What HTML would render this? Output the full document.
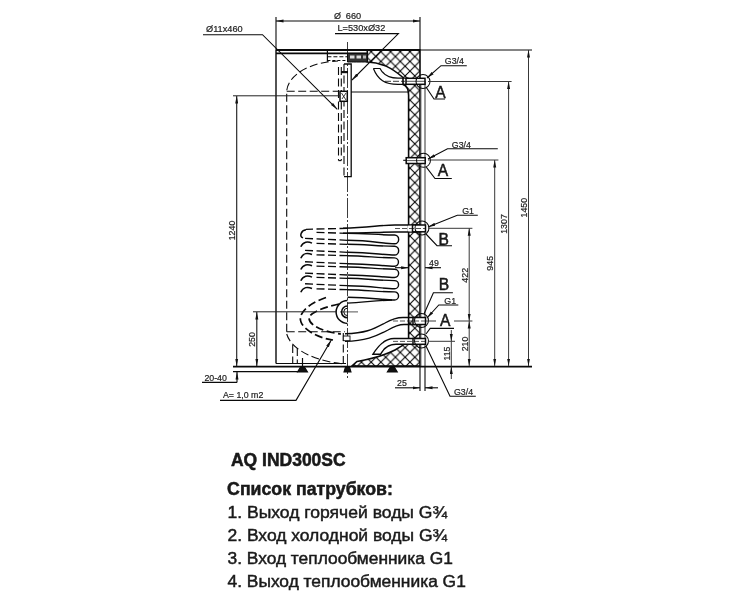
<!DOCTYPE html>
<html><head><meta charset="utf-8">
<style>
html,body{margin:0;padding:0;background:#fff;width:734px;height:600px;overflow:hidden}
svg{display:block;will-change:transform}
text{font-family:"Liberation Sans",sans-serif;fill:#1a1a1a}
</style></head><body>
<svg width="734" height="600" viewBox="0 0 734 600">
<defs>
<pattern id="hatch" patternUnits="userSpaceOnUse" width="9.7" height="9.7" x="409.95" y="3.2">
<path d="M0,0 L9.7,9.7 M9.7,0 L0,9.7" stroke="#000" stroke-width="1.05"/>
</pattern>
<marker id="ar" viewBox="0 0 10 4" refX="10" refY="2" markerWidth="7.5" markerHeight="3.6" markerUnits="userSpaceOnUse" orient="auto-start-reverse">
<path d="M0,0 L10,2 L0,4 z" fill="#111"/>
</marker>
</defs>
<g fill="none" stroke="#0a0a0a" stroke-width="1.1">

<!-- Ø660 dimension -->
<line x1="276" y1="17" x2="276" y2="50"/>
<line x1="420" y1="17" x2="420" y2="50"/>
<line x1="276" y1="21" x2="420" y2="21" marker-start="url(#ar)" marker-end="url(#ar)"/>

<!-- leaders top -->
<polyline points="203,34.7 262.5,34.7 337.3,109.3" marker-end="url(#ar)"/>
<polyline points="335,33.6 398.4,33.6 352,80" marker-end="url(#ar)"/>

<!-- insulation -->
<path d="M367.3,50 L420,50 L420,366 L352,366 L357,361.5 C370,359 385,355 395,350 C400,347.5 404,345 408.6,340 L408.6,95 C408.6,89 406,85.5 403,84.4 L403,77.5 C392,68 382,62.5 367.3,62 Z" fill="url(#hatch)" stroke-width="1.6"/>
<line x1="421.3" y1="81" x2="421.3" y2="366" stroke="#999" stroke-width="0.8"/>
<line x1="425" y1="81" x2="425" y2="366" stroke="#333" stroke-width="1"/>

<!-- outer shell -->
<line x1="276" y1="50" x2="276" y2="363.5" stroke-width="1.4"/>
<line x1="276" y1="363.5" x2="346" y2="363.5"/>
<line x1="420" y1="50" x2="532" y2="50" stroke-width="1"/>
<line x1="276" y1="50" x2="420" y2="50" stroke-width="2"/>
<line x1="276" y1="53.4" x2="368" y2="53.4" stroke-width="1.6"/>

<!-- inner tank dashed -->
<g stroke-dasharray="8,3.5">
<path d="M286.7,331.7 L286.7,91 C288,75 310,62 338,61"/>
<line x1="286.7" y1="91.3" x2="338.7" y2="91.3"/>
<line x1="286.7" y1="331.7" x2="345" y2="331.7"/>
<path d="M286.7,334 C292,352 320,362 345,364"/>
<line x1="338.5" y1="67" x2="338.5" y2="160.6"/>
<line x1="341.3" y1="67" x2="341.3" y2="160.6"/>
<path d="M338.5,160.6 L341.3,160.6" stroke-dasharray="none"/>
<line x1="344" y1="64" x2="344" y2="176.6"/>
<line x1="292.7" y1="345" x2="292.7" y2="363"/>
<line x1="297.3" y1="348" x2="297.3" y2="363"/>
<line x1="343.3" y1="333" x2="343.3" y2="363"/>
<!-- coil bottom C curves -->
<path d="M326,297.5 C305,305 298,315 301,322 C304,330 318,338 333,340" stroke-width="1.7"/>
<path d="M339,304 C320,308 309,314 309,318 C309,326 325,332 341,334" stroke-width="1.7"/>
<path d="M347.5,228.3 L306,229.3" stroke-width="1.35"/>
<path d="M347.5,233.3 L313,232.3" stroke-width="1.35"/>
<path d="M347.5,240.3 L303,238.3" stroke-width="1.35"/>
<path d="M347.5,244.3 L313,243.3" stroke-width="1.35"/>
<path d="M347.5,252.3 L303,250.3" stroke-width="1.35"/>
<path d="M347.5,255.7 L313,254.7" stroke-width="1.35"/>
<path d="M347.5,263.7 L303,261.7" stroke-width="1.35"/>
<path d="M347.5,267 L313,266" stroke-width="1.35"/>
<path d="M347.5,275 L303,273" stroke-width="1.35"/>
<path d="M347.5,278.3 L313,277.3" stroke-width="1.35"/>
<path d="M347.5,285.7 L303,283.7" stroke-width="1.35"/>
<path d="M347.5,289.7 L313,288.7" stroke-width="1.35"/>
<g stroke-width="1.5" stroke-dasharray="none">
<path d="M306,229.8 C301,230.3 299,236.3 303,237.8"/>
<path d="M312,243.10000000000002 C308,241.3 303,241.3 300.8,246.8"/>
<path d="M312,254.5 C308,252.7 303,252.7 300.8,258.2"/>
<path d="M312,265.8 C308,264 303,264 300.8,269.5"/>
<path d="M312,277.1 C308,275.3 303,275.3 300.8,280.8"/>
<path d="M312,288.5 C308,286.7 303,286.7 300.8,292.2"/>
</g>
</g>
<line x1="351" y1="92" x2="408.6" y2="92"/>

<!-- anode -->
<polyline points="344,64 351.2,64 351.2,176.6 344,176.6" stroke-width="1.3"/>
<rect x="340" y="91.3" width="7.3" height="10" stroke-width="1.5" fill="#fff"/>
<path d="M341.5,93 L346,100 M346,93 L342,99" stroke-width="0.8"/>
<rect x="341" y="71" width="7" height="2.2" fill="#111" stroke="none"/>
<line x1="347.5" y1="42" x2="347.5" y2="378" stroke-dasharray="20,2,2,2" stroke-width="0.8"/>

<!-- top flange -->
<line x1="327.4" y1="50" x2="327.4" y2="61.8" stroke-width="1.2"/>
<line x1="327.4" y1="56.8" x2="347" y2="56.8" stroke-dasharray="4,2"/>
<line x1="327.4" y1="60.5" x2="347" y2="60.5" stroke-dasharray="3,2"/>
<path d="M347.5,53.4 L367.3,53.4 L367.3,62 C360,62 352,62 347.5,62 Z" fill="#333" stroke-width="1"/>
<rect x="350" y="55.5" width="4.5" height="3" fill="#ddd" stroke="none"/>
<rect x="356.5" y="55.5" width="4.5" height="3" fill="#ddd" stroke="none"/>
<rect x="363" y="55.5" width="3" height="3" fill="#bbb" stroke="none"/>

<!-- top hook pipe (hot out) -->
<path d="M373.4,68.5 L380,68.5 C384,76 390,78.2 398,78.2 L408.6,78.2" stroke-width="1.2"/>
<path d="M373.4,68.5 C378,80 385,84.4 398,84.4 L408.6,84.4" stroke-width="1.2"/>
<line x1="385" y1="81.3" x2="405" y2="81.3" stroke-dasharray="6,2" stroke-width="0.8"/>
<rect x="406" y="78.3" width="19" height="6" fill="#fff" stroke-width="1.5"/>
<line x1="406" y1="81.3" x2="425" y2="81.3" stroke-width="0.7"/>
<circle cx="423" cy="81.5" r="7" stroke-width="1.05"/>

<!-- nozzle 2 -->
<line x1="403.2" y1="160.3" x2="406" y2="160.3"/>
<rect x="406.2" y="157.7" width="19" height="5.8" fill="#fff" stroke-width="1.5"/>
<line x1="406.2" y1="160.6" x2="425" y2="160.6" stroke-width="0.7"/>
<circle cx="423.5" cy="160.3" r="7" stroke-width="1.05"/>

<!-- top coil pipe to B -->
<path d="M343,228.3 C370,227.5 380,225 395,225 L419.6,225" stroke-width="1.4"/>
<path d="M343,233.3 C370,233 380,232 395,232 L419.6,232" stroke-width="1.4"/>
<rect x="408" y="225.6" width="12" height="5.8" fill="#fff" stroke="none"/>
<rect x="412.5" y="225" width="13" height="6.8" fill="#fff" stroke-width="1.5"/>
<line x1="395" y1="228.5" x2="425" y2="228.5" stroke-dasharray="5,2" stroke-width="0.7"/>
<circle cx="422" cy="228" r="7" stroke-width="1.05"/>

<!-- coil solid loops -->
<g stroke-width="1.4">
<path d="M347.5,233.3 C365,233.3 378,235 394.5,235 A4.38,4.38 0 0 1 394.5,243.75 C382,243.75 372,240.3 347.5,240.3"/>
<path d="M347.5,244.3 C365,244.3 378,246.25 394.5,246.25 A4.38,4.38 0 0 1 394.5,255 C382,255 372,252.3 347.5,252.3"/>
<path d="M347.5,255.7 C365,255.7 378,257.9 394.5,257.9 A4.18,4.18 0 0 1 394.5,266.25 C382,266.25 372,263.7 347.5,263.7"/>
<path d="M347.5,267 C365,267 378,269.2 394.5,269.2 A4.15,4.15 0 0 1 394.5,277.5 C382,277.5 372,275 347.5,275"/>
<path d="M347.5,278.3 C365,278.3 378,280.6 394.5,280.6 A4.07,4.07 0 0 1 394.5,288.75 C382,288.75 372,285.7 347.5,285.7"/>
<path d="M347.5,289.7 C365,289.7 378,291.9 394.5,291.9 A4.05,4.05 0 0 1 394.5,300 C382,300 372,297.25 347.5,297.25"/>
<path d="M392,300 C378,300.5 365,302 347.5,303.1"/>
</g>

<!-- fitting half circle -->
<path d="M347.5,300.6 A11.4,11.4 0 0 0 347.5,323.4" stroke-width="1.5"/>
<path d="M347.5,306 A5.8,5.8 0 0 0 347.5,317.8" stroke-width="1.6"/>
<path d="M347.5,308.2 A3.7,3.7 0 0 0 347.5,315.6" stroke-width="1"/>
<line x1="340" y1="311.9" x2="358" y2="311.9" stroke-width="0.7"/>

<!-- lower outlet pipe (B G1) -->
<path d="M345,333.8 C365,333 372,330 385,323 C392,319 396,317.5 403,317.5 L419.6,317.5" stroke-width="1.4"/>
<path d="M345,341.4 C365,341 375,337 388,330 C394,326.5 398,324.5 404,324.5 L419.6,324.5" stroke-width="1.4"/>
<rect x="413" y="317.5" width="12.5" height="7" fill="#fff" stroke-width="1.5"/>
<line x1="393" y1="321" x2="425" y2="321" stroke-dasharray="5,2" stroke-width="0.7"/>
<circle cx="421.5" cy="320.5" r="7" stroke-width="1.05"/>
<rect x="343.3" y="336" width="6.7" height="4.7" fill="#fff" stroke-width="0.9"/>

<!-- cold inlet hook -->
<path d="M419.6,338.5 L394,338.5 C385,338.5 378,346 373,354.2 L380.6,354.2 C384,348 388,344.3 396,344.3 L419.6,344.3" fill="#fff" stroke-width="1.4"/>
<rect x="413" y="338.5" width="12.5" height="5.8" fill="#fff" stroke-width="1.5"/>
<line x1="393" y1="341.4" x2="425" y2="341.4" stroke-dasharray="5,2" stroke-width="0.7"/>
<circle cx="421.5" cy="341" r="7" stroke-width="1.05"/>

<!-- feet -->
<path d="M297.5,372 L300.5,367 L304.5,367 L307.5,372 Z" fill="#111"/>
<line x1="302.5" y1="358" x2="302.5" y2="367" stroke-width="1.2"/>
<path d="M344,372 L345.5,367 L349.5,367 L351,372 Z" fill="#111"/>
<path d="M387.3,372 L390.3,367 L394.3,367 L397.3,372 Z" fill="#111"/>

<g stroke="#383838" stroke-width="1">
<!-- 1240 dim -->
<line x1="233" y1="95.8" x2="340" y2="95.8" stroke="#222"/>
<line x1="236.7" y1="96" x2="236.7" y2="366" stroke="#222" stroke-width="1.15" marker-start="url(#ar)" marker-end="url(#ar)"/>
<!-- 250 dim -->
<line x1="253" y1="311.8" x2="337" y2="311.8" stroke="#222"/>
<line x1="256.8" y1="312" x2="256.8" y2="366" stroke="#222" stroke-width="1.15" marker-start="url(#ar)" marker-end="url(#ar)"/>
</g>
<!-- floor -->
<line x1="233" y1="366.6" x2="532" y2="366.6" stroke-width="1.8"/>
<line x1="233" y1="371.6" x2="298" y2="371.6" stroke-width="1.2"/>
<!-- 20-40 -->
<line x1="237" y1="382.4" x2="237" y2="372" marker-end="url(#ar)"/>
<line x1="202" y1="382.4" x2="237" y2="382.4"/>
<!-- A=1,0 m2 leader -->
<polyline points="220,400.4 296,400.4 331.3,340" marker-end="url(#ar)"/>

<!-- right dims -->
<g stroke="#383838" stroke-width="1">
<line x1="528.5" y1="50" x2="528.5" y2="366" marker-start="url(#ar)" marker-end="url(#ar)"/>
<line x1="428" y1="81.5" x2="511.6" y2="81.5"/>
<line x1="508.6" y1="81.5" x2="508.6" y2="366" marker-start="url(#ar)" marker-end="url(#ar)"/>
<line x1="428" y1="160" x2="498.4" y2="160"/>
<line x1="494.7" y1="160" x2="494.7" y2="366" marker-start="url(#ar)" marker-end="url(#ar)"/>
<line x1="428" y1="228.3" x2="472.4" y2="228.3"/>
<line x1="469.2" y1="228.3" x2="469.2" y2="321" marker-start="url(#ar)" marker-end="url(#ar)"/>
<line x1="469.2" y1="321" x2="469.2" y2="366" marker-start="url(#ar)" marker-end="url(#ar)"/>
<line x1="425.8" y1="321" x2="436" y2="321"/>
<line x1="454" y1="321" x2="472.4" y2="321"/>
<line x1="428" y1="341.3" x2="455" y2="341.3"/>
<line x1="451.3" y1="330" x2="451.3" y2="341.3" marker-end="url(#ar)"/>
<line x1="451.3" y1="341.3" x2="451.3" y2="366"/>
<line x1="451.3" y1="379" x2="451.3" y2="366.5" marker-end="url(#ar)"/>

</g>
<!-- 25 dim -->
<line x1="420" y1="366" x2="420" y2="391"/>
<line x1="425" y1="366" x2="425" y2="391"/>
<line x1="395" y1="387.8" x2="420" y2="387.8" marker-end="url(#ar)"/>
<line x1="438" y1="387.8" x2="425" y2="387.8" marker-end="url(#ar)"/>

<!-- label leaders -->
<polyline points="466.8,65.7 441,65.7 427,78" marker-end="url(#ar)"/>
<polyline points="445,99 434,99 426,87"/>
<polyline points="497.8,148.8 447.5,148.8 428,159" marker-end="url(#ar)"/>
<polyline points="451.8,178.5 435,178.5 426.3,167.2"/>
<polyline points="477.8,215.3 457.3,215.3 428,227" marker-end="url(#ar)"/>
<polyline points="452,245.7 437,245.7 426,234"/>
<!-- 49 dim -->
<line x1="441" y1="267.7" x2="425" y2="267.7" marker-end="url(#ar)"/>
<line x1="395" y1="267.7" x2="408.6" y2="267.7" marker-end="url(#ar)"/>
<polyline points="452.9,292.7 433.4,292.7 424,314"/>
<polyline points="458.3,305 438.8,305 427,318" marker-end="url(#ar)"/>
<polyline points="454,328.4 430.2,328.4 426,334"/>
<polyline points="475.8,396.3 450,396.3 426,346" />
</g>

<!-- labels -->
<text x="206" y="31.7" font-size="9.2" stroke="#222" stroke-width="0.2">Ø11x460</text>
<text x="334" y="19.3" font-size="9" stroke="#222" stroke-width="0.2">Ø</text><text x="345.8" y="19.3" font-size="9.2" stroke="#222" stroke-width="0.2">660</text>
<text x="337.5" y="31.3" font-size="9.2" stroke="#222" stroke-width="0.2">L=530xØ32</text>
<text x="444.8" y="64.3" font-size="8.8" stroke="#222" stroke-width="0.2">G3/4</text>
<text x="435.3" y="97.7" font-size="15.6" stroke="#111" stroke-width="0.45">A</text>
<text x="451.8" y="147.7" font-size="8.8" stroke="#222" stroke-width="0.2">G3/4</text>
<text x="437.7" y="175.9" font-size="15.6" stroke="#111" stroke-width="0.45">A</text>
<text x="462.2" y="214.3" font-size="8.8" stroke="#222" stroke-width="0.2">G1</text>
<text x="438.4" y="244.6" font-size="15.6" stroke="#111" stroke-width="0.45">B</text>
<text x="429" y="266.4" font-size="8.8" stroke="#222" stroke-width="0.2">49</text>
<text x="438.8" y="290.3" font-size="15.6" stroke="#111" stroke-width="0.45">B</text>
<text x="444.3" y="303.5" font-size="8.8" stroke="#222" stroke-width="0.2">G1</text>
<text x="440" y="325.6" font-size="15.6" stroke="#111" stroke-width="0.45">A</text>
<text x="454" y="395" font-size="8.8" stroke="#222" stroke-width="0.2">G3/4</text>
<text x="397" y="386.3" font-size="8.8" stroke="#222" stroke-width="0.2">25</text>
<text x="204.4" y="381" font-size="8.8" stroke="#222" stroke-width="0.2">20-40</text>
<text x="223" y="398" font-size="8.8" stroke="#222" stroke-width="0.2">A= 1,0 m2</text>
<text transform="translate(235,230.5) rotate(-90)" text-anchor="middle" font-size="8.8" stroke="#222" stroke-width="0.2">1240</text>
<text transform="translate(255,339.5) rotate(-90)" text-anchor="middle" font-size="8.8" stroke="#222" stroke-width="0.2">250</text>
<text transform="translate(526.5,207.7) rotate(-90)" text-anchor="middle" font-size="8.8" stroke="#222" stroke-width="0.2">1450</text>
<text transform="translate(507,224) rotate(-90)" text-anchor="middle" font-size="8.8" stroke="#222" stroke-width="0.2">1307</text>
<text transform="translate(493,263.3) rotate(-90)" text-anchor="middle" font-size="8.8" stroke="#222" stroke-width="0.2">945</text>
<text transform="translate(467.5,275.3) rotate(-90)" text-anchor="middle" font-size="8.8" stroke="#222" stroke-width="0.2">422</text>
<text transform="translate(467.5,344) rotate(-90)" text-anchor="middle" font-size="8.8" stroke="#222" stroke-width="0.2">210</text>
<text transform="translate(450,353.5) rotate(-90)" text-anchor="middle" font-size="8.8" stroke="#222" stroke-width="0.2">115</text>

<!-- bottom text -->
<text x="231" y="465.7" font-size="18.2" font-weight="bold" stroke="#111" stroke-width="0.5" textLength="114.6" lengthAdjust="spacingAndGlyphs">AQ IND300SC</text>
<text x="227.1" y="495.1" font-size="18.2" font-weight="bold" stroke="#111" stroke-width="0.5" textLength="165.8" lengthAdjust="spacingAndGlyphs">Список патрубков:</text>
<text x="227.5" y="517.8" font-size="15.8" stroke="#1a1a1a" stroke-width="0.45" textLength="219.6" lengthAdjust="spacingAndGlyphs">1. Выход горячей воды G¾</text>
<text x="227.5" y="540.8" font-size="15.8" stroke="#1a1a1a" stroke-width="0.45" textLength="219.6" lengthAdjust="spacingAndGlyphs">2. Вход холодной воды G¾</text>
<text x="227.5" y="564.1" font-size="15.8" stroke="#1a1a1a" stroke-width="0.45" textLength="225.4" lengthAdjust="spacingAndGlyphs">3. Вход теплообменника G1</text>
<text x="227.5" y="587" font-size="15.8" stroke="#1a1a1a" stroke-width="0.45" textLength="238.3" lengthAdjust="spacingAndGlyphs">4. Выход теплообменника G1</text>
</svg>
</body></html>
